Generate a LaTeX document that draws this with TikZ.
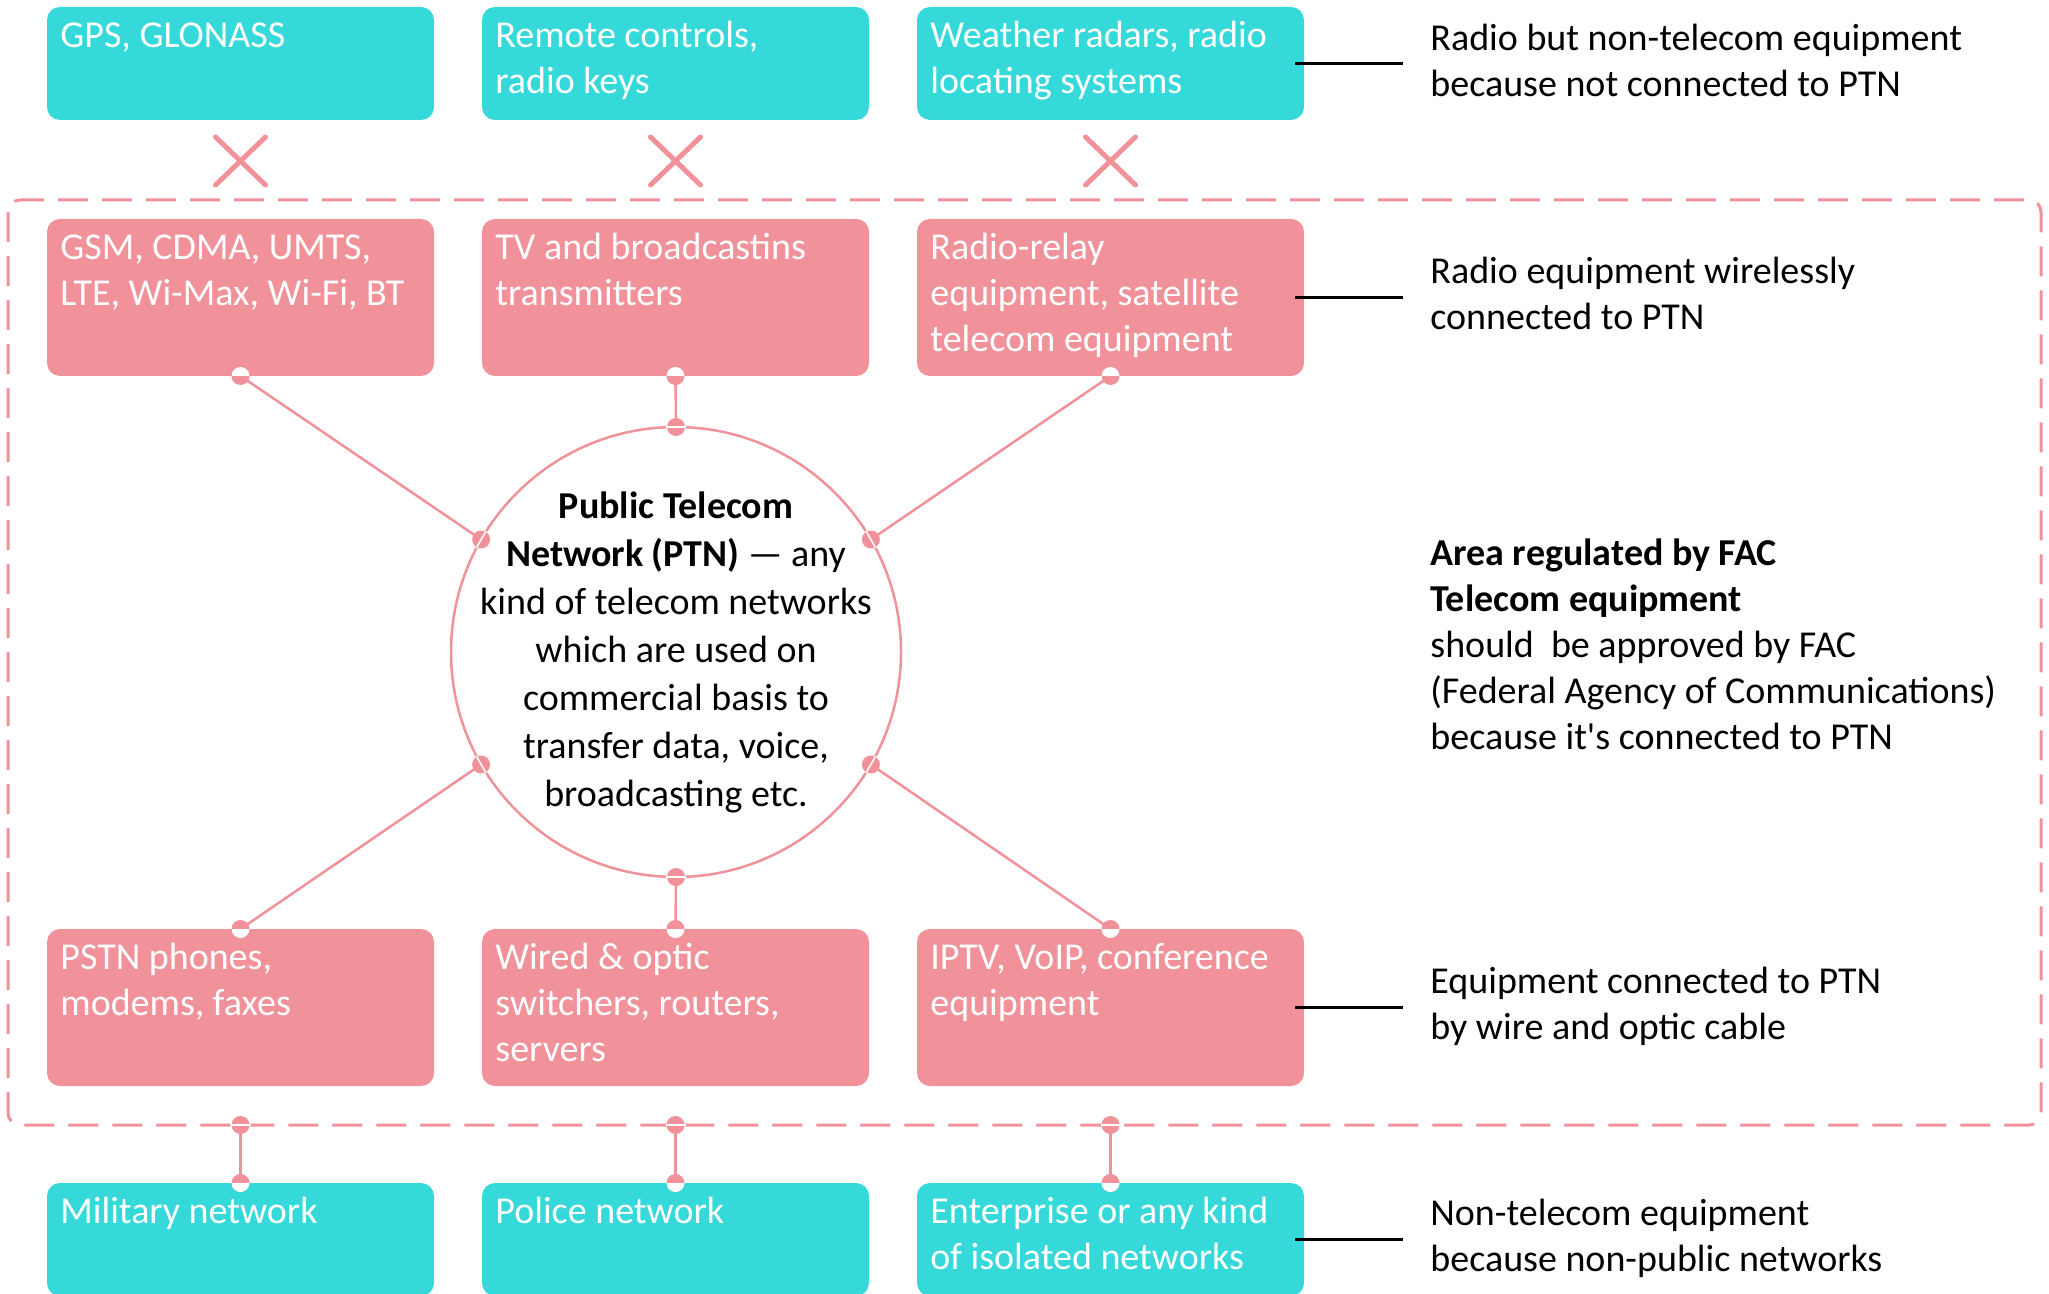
\documentclass[tikz,border=0pt]{standalone}
\usepackage{fontspec}
\setmainfont{Carlito}
\definecolor{cyanbox}{RGB}{54,217,217}
\definecolor{pinkbox}{RGB}{241,145,153}
\newcommand{\mkwhite}[2]{% #1 point, #2 = 1 white on top, -1 white at bottom
  \fill[pinkbox] (#1) circle (4.5pt);
  \begin{scope}
    \clip (#1) circle (4.5pt);
    \fill[white] ([xshift=-5pt]#1) rectangle ([xshift=5pt,yshift=#2*5pt]#1);
  \end{scope}}
\newcommand{\mkline}[2]{% #1 point, #2 tangent angle
  \fill[pinkbox] (#1) circle (4.5pt);
  \draw[white,line width=0.8pt] ([shift={(#2:5pt)}]#1) -- ([shift={(#2+180:5pt)}]#1);}
\begin{document}
\begin{tikzpicture}[x=0.5pt,y=-0.5pt,
  box/.style={rounded corners=6.5pt,minimum width=193.5pt,inner sep=0pt,outer sep=0pt},
  cbox/.style={box,fill=cyanbox,minimum height=56.5pt},
  pbox/.style={box,fill=pinkbox,minimum height=78.5pt},
  btxt/.style={anchor=north west,inner sep=0pt,text=white,align=left,font=\fontsize{19}{23}\selectfont},
  rtxt/.style={anchor=north west,inner sep=0pt,align=left,font=\fontsize{19}{23}\selectfont},
  conn/.style={draw=pinkbox,line width=1.25pt},
  xmark/.style={draw=pinkbox,line width=2.5pt,line cap=round},
  bline/.style={draw=black,line width=1.5pt}]
\useasboundingbox (0,0) rectangle (2049,1294);
% dashed region
\draw[pinkbox,line width=1.5pt,dash pattern=on 15pt off 7pt,rounded corners=6pt] (8,200) rectangle (2041,1125);
% boxes
\node[cbox] (w1) at (240.5,63.5) {};
\node[cbox] (w2) at (675.5,63.5) {};
\node[cbox] (w3) at (1110.5,63.5) {};
\node[pbox] (p1) at (240.5,297.5) {};
\node[pbox] (p2) at (675.5,297.5) {};
\node[pbox] (p3) at (1110.5,297.5) {};
\node[pbox] (q1) at (240.5,1007.5) {};
\node[pbox] (q2) at (675.5,1007.5) {};
\node[pbox] (q3) at (1110.5,1007.5) {};
\node[cbox] (c1) at (240.5,1239.5) {};
\node[cbox] (c2) at (675.5,1239.5) {};
\node[cbox] (c3) at (1110.5,1239.5) {};
% box texts
\node[btxt] (w1t) at ([xshift=6.5pt,yshift=-3.9pt]w1.north west) {\strut GPS, GLONASS};
\node[btxt] (w2t) at ([xshift=6.5pt,yshift=-3.9pt]w2.north west) {\strut Remote controls,\\radio keys};
\node[btxt] (w3t) at ([xshift=6.5pt,yshift=-3.9pt]w3.north west) {\strut Weather radars, radio\\locating systems};
\node[btxt] (p1t) at ([xshift=6.5pt,yshift=-3.9pt]p1.north west) {\strut GSM, CDMA, UMTS,\\LTE, Wi-Max, Wi-Fi, BT};
\node[btxt] (p2t) at ([xshift=6.5pt,yshift=-3.9pt]p2.north west) {\strut TV and broadcastins\\transmitters};
\node[btxt] (p3t) at ([xshift=6.5pt,yshift=-3.9pt]p3.north west) {\strut Radio-relay\\equipment, satellite\\telecom equipment};
\node[btxt] (q1t) at ([xshift=6.5pt,yshift=-3.9pt]q1.north west) {\strut PSTN phones,\\modems, faxes};
\node[btxt] (q2t) at ([xshift=6.5pt,yshift=-3.9pt]q2.north west) {\strut Wired \& optic\\switchers, routers,\\servers};
\node[btxt] (q3t) at ([xshift=6.5pt,yshift=-3.9pt]q3.north west) {\strut IPTV, VoIP, conference\\equipment};
\node[btxt] (c1t) at ([xshift=6.5pt,yshift=-3.9pt]c1.north west) {\strut Military network};
\node[btxt] (c2t) at ([xshift=6.5pt,yshift=-3.9pt]c2.north west) {\strut Police network};
\node[btxt] (c3t) at ([xshift=6.5pt,yshift=-3.9pt]c3.north west) {\strut Enterprise or any kind\\of isolated networks};
% X marks
\foreach \xx in {240.5,675.5,1110.5}{
  \draw[xmark] (\xx-25,137) -- (\xx+25,185);
  \draw[xmark] (\xx+25,137) -- (\xx-25,185);
}
% central circle
\node[circle,draw=pinkbox,line width=1.25pt,minimum size=225pt,inner sep=0pt,outer sep=0pt] (ptn) at (676,652) {};
\node[align=center,inner sep=0pt,font=\fontsize{19}{24}\selectfont] (ptnt) at (676,652)
  {\textbf{Public Telecom}\\\textbf{Network (PTN)} — any\\kind of telecom networks\\which are used on\\commercial basis to\\transfer data, voice,\\broadcasting etc.};
% connectors to circle
\draw[conn] (p1.south) -- (ptn.150);
\draw[conn] (p2.south) -- (ptn.90);
\draw[conn] (p3.south) -- (ptn.30);
\draw[conn] (q1.north) -- (ptn.210);
\draw[conn] (q2.north) -- (ptn.270);
\draw[conn] (q3.north) -- (ptn.330);
\mkwhite{p1.south}{1}\mkwhite{p2.south}{1}\mkwhite{p3.south}{1}
\mkwhite{q1.north}{-1}\mkwhite{q2.north}{-1}\mkwhite{q3.north}{-1}
\mkline{ptn.150}{60}\mkline{ptn.90}{0}\mkline{ptn.30}{120}
\mkline{ptn.210}{120}\mkline{ptn.270}{0}\mkline{ptn.330}{60}
% connectors to isolated networks
\coordinate (d1) at (240.5,1125);
\coordinate (d2) at (675.5,1125);
\coordinate (d3) at (1110.5,1125);
\draw[conn] (d1) -- (c1.north);
\draw[conn] (d2) -- (c2.north);
\draw[conn] (d3) -- (c3.north);
\mkline{d1}{0}\mkline{d2}{0}\mkline{d3}{0}
\mkwhite{c1.north}{-1}\mkwhite{c2.north}{-1}\mkwhite{c3.north}{-1}
% right side texts
\node[rtxt] (r1) at (1430,17.8) {\strut Radio but non-telecom equipment\\because not connected to PTN};
\node[rtxt] (r2) at (1430,250.8) {\strut Radio equipment wirelessly\\connected to PTN};
\node[rtxt] (r3) at (1430,532.8) {\strut\textbf{Area regulated by FAC}\\\textbf{Telecom equipment}\\should\ \ be approved by FAC\\(Federal Agency of Communications)\\because it\textquotesingle s connected to PTN};
\node[rtxt] (r4) at (1430,960.8) {\strut Equipment connected to PTN\\by wire and optic cable};
\node[rtxt] (r5) at (1430,1192.8) {\strut Non-telecom equipment\\because non-public networks};
% black leader lines
\draw[bline] ([xshift=-4.5pt]w3.east) -- ++(54pt,0);
\draw[bline] ([xshift=-4.5pt]p3.east) -- ++(54pt,0);
\draw[bline] ([xshift=-4.5pt]q3.east) -- ++(54pt,0);
\draw[bline] ([xshift=-4.5pt]c3.east) -- ++(54pt,0);
\end{tikzpicture}
\end{document}
